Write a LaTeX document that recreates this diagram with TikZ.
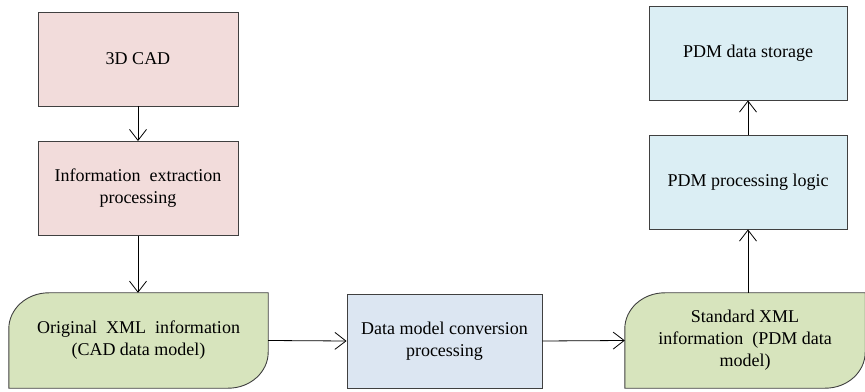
\documentclass[tikz,border=0pt]{standalone}
\usepackage{fontspec}
\setmainfont{Liberation Serif}
\usetikzlibrary{arrows.meta,calc,backgrounds}
\definecolor{pinkfill}{HTML}{F2DCDB}
\definecolor{bluefill}{HTML}{DBEEF4}
\definecolor{lavfill}{HTML}{DCE6F2}
\definecolor{greenfill}{HTML}{D7E4BD}
\definecolor{edge}{HTML}{404040}
\tikzset{
  x=1pt,y=1pt,
  box/.style={draw=edge,line width=0.9pt,align=center,font=\fontsize{18}{22}\selectfont,inner sep=2pt},
  pinkbox/.style={box,fill=pinkfill,minimum width=200pt,minimum height=94pt},
  bluebox/.style={box,fill=bluefill,minimum width=198pt,minimum height=94pt},
  lavbox/.style={box,fill=lavfill,minimum width=195pt,minimum height=94pt},
  greentext/.style={align=center,font=\fontsize{18}{22}\selectfont,inner sep=0pt,minimum height=95pt},
  greenshape/.style={fill=greenfill,draw=edge,line width=0.9pt},
  conn/.style={draw=black,line width=0.8pt,-{Straight Barb[length=11pt,width=17pt,line width=0.8pt]}}
}
\begin{document}
\begin{tikzpicture}
\useasboundingbox (0,0) rectangle (865,391);
\node[pinkbox] (cad) at (138,332) {3D CAD};
\node[pinkbox] (ext) at (138,202.5) {Information\enspace extraction\\processing};
\node[greentext,minimum width=259pt] (orig) at (138.5,50.5) {Original\enspace XML\enspace information\\(CAD data model)};
\node[lavbox] (conv) at (444.5,50) {Data model conversion\\processing};
\node[greentext,minimum width=240pt] (std) at (745,50.5) {Standard XML\\information\enspace(PDM data\\model)};
\node[bluebox] (logic) at (748,209) {PDM processing logic};
\node[bluebox] (store) at (748,338) {PDM data storage};
\begin{scope}[on background layer]
\path[greenshape] ($(orig.north west)+(0,-36)$) arc[start angle=180,end angle=90,x radius=40,y radius=36]
  -- (orig.north east) -- ($(orig.south east)+(0,36)$)
  arc[start angle=0,end angle=-90,x radius=40,y radius=36] -- (orig.south west) -- cycle;
\path[greenshape] ($(std.north west)+(0,-36)$) arc[start angle=180,end angle=90,x radius=40,y radius=36]
  -- (std.north east) -- ($(std.south east)+(0,36)$)
  arc[start angle=0,end angle=-90,x radius=40,y radius=36] -- (std.south west) -- cycle;
\end{scope}
\draw[conn] (cad.south) -- (ext.north);
\draw[conn] (ext.south) -- (orig.north -| ext.south);
\draw[conn] (orig.east) -- (conv.west);
\draw[conn] (conv.east) -- (std.west);
\draw[conn] (std.north -| logic.south) -- (logic.south);
\draw[conn] (logic.north) -- (store.south);
\end{tikzpicture}
\end{document}
